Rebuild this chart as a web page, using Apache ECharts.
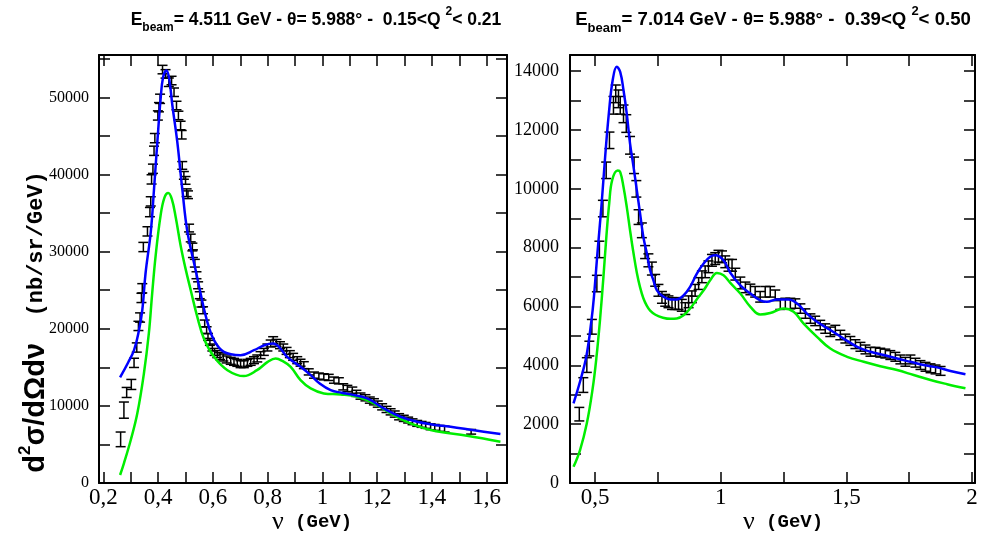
<!DOCTYPE html>
<html>
<head>
<meta charset="utf-8">
<script src="https://cdn.jsdelivr.net/npm/echarts/dist/echarts.min.js"></script>
<style>
html,body{margin:0;padding:0;background:#fff;}
#chart{width:987px;height:551px;}
</style>
</head>
<body>
<div id="chart"></div>
<script>
// ---------------- Left panel (E=4.511 GeV) ----------------
const leftTitle = 'E_beam= 4.511 GeV - θ= 5.988° -  0.15<Q^2< 0.21';
const leftXTicks = [0.2,0.3,0.4,0.5,0.6,0.7,0.8,0.9,1.0,1.1,1.2,1.3,1.4,1.5,1.6];
const leftXLabels = [0.2,0.4,0.6,0.8,1.0,1.2,1.4,1.6];
const leftYLabelStep = 10000;

const leftDataNu = [
0.263,0.275,0.285,0.302,0.312,0.322,0.328,0.334,0.339,0.342,
0.346,0.361,0.370,0.373,0.376,0.381,0.385,0.388,0.399,0.403,
0.407,0.416,0.427,0.439,0.449,0.458,0.467,0.474,0.482,0.486,
0.488,0.494,0.500,0.504,0.509,0.513,0.519,0.525,0.527,0.534,
0.540,0.546,0.552,0.558,0.564,0.570,0.577,0.582,0.589,0.598,
0.606,0.616,0.626,0.638,0.650,0.665,0.677,0.689,0.701,0.713,
0.726,0.738,0.750,0.762,0.774,0.786,0.799,0.811,0.820,0.832,
0.845,0.857,0.869,0.881,0.893,0.908,0.920,0.932,0.950,0.969,
0.987,1.005,1.023,1.042,1.060,1.076,1.091,1.109,1.124,1.139,
1.157,1.173,1.188,1.202,1.218,1.234,1.249,1.264,1.280,1.297,
1.313,1.329,1.346,1.362,1.377,1.395,1.410,1.428,1.446,1.543];
const leftDataVal = [
5660,9450,11740,12780,15580,17570,20370,21460,24000,25250,
30600,32630,35130,36520,39370,40750,43080,44720,47660,48730,
49820,53610,53050,51970,52190,50670,48950,47660,46360,45160,
41180,39890,39240,37640,37380,33060,31770,30600,29740,28500,
26940,25640,24350,23270,22400,20680,19810,18950,18300,17570,
17000,16710,16450,16270,16020,15840,15710,15580,15410,15410,
15580,15710,15930,16150,16580,17000,17570,18090,18520,18170,
17870,17570,17130,16710,16360,15930,15600,15280,14410,13990,
13860,13770,13690,13340,13250,12470,12260,12040,11620,11270,
11050,10750,10530,10230,9880,9540,9230,8940,8590,8380,
8160,7940,7730,7600,7470,7290,7210,7080,6990,6640];
const leftDataErr = [
950,1050,650,650,600,600,600,600,600,600,
600,600,600,600,600,600,600,600,600,600,
600,550,550,550,550,550,550,550,550,550,
500,500,500,500,500,500,500,500,500,500,
450,450,450,450,450,450,450,450,450,450,
450,450,450,450,450,450,450,450,450,450,
450,450,450,450,450,450,450,450,450,450,
450,450,450,450,450,450,450,450,400,400,
400,400,400,400,400,400,400,400,400,400,
400,400,400,400,400,400,400,400,400,400,
380,380,380,380,380,380,380,380,380,300];

const leftBlueNu = [0.261,0.290,0.312,0.330,0.342,0.354,0.373,0.385,0.397,0.409,0.418,0.430,0.440,0.452,0.470,0.488,0.507,0.537,0.555,0.578,0.604,0.640,0.701,0.750,0.790,0.820,0.845,0.871,0.920,0.957,0.990,1.030,1.070,1.103,1.163,1.224,1.285,1.346,1.400,1.468,1.560,1.650];
const leftBlueVal = [13690,15600,17220,19800,22400,27200,32540,38160,44200,49800,52600,53480,52500,48950,44200,38160,32540,27600,24570,21100,18520,17000,16580,17220,17900,18100,17500,16350,15060,13990,12900,12040,11700,11490,10970,9670,8590,7940,7600,7290,6800,6350];
const leftGreenNu = [0.261,0.275,0.300,0.324,0.348,0.366,0.378,0.391,0.409,0.423,0.437,0.450,0.464,0.482,0.500,0.519,0.543,0.567,0.604,0.653,0.713,0.761,0.800,0.829,0.855,0.884,0.920,0.957,1.005,1.066,1.127,1.188,1.249,1.321,1.407,1.528,1.650];
const leftGreenVal = [1040,2550,5570,9030,14200,19390,24500,29530,34700,37000,37600,36800,34500,30800,27800,25000,21540,18740,16360,14630,13860,14630,15700,16150,15800,15060,13340,12260,11620,11490,11180,10320,9030,7730,6770,6130,5350];

// ---------------- Right panel (E=7.014 GeV) ----------------
const rightTitle = 'E_beam= 7.014 GeV - θ= 5.988° -  0.39<Q^2< 0.50';
const rightXTicks = [0.5,0.75,1.0,1.25,1.5,1.75,2.0];
const rightXLabels = [0.5,1.0,1.5,2.0];
const rightYLabelStep = 2000;

const rightDataNu = [
0.437,0.453,0.467,0.477,0.487,0.507,0.517,0.531,0.544,0.557,
0.573,0.582,0.593,0.600,0.613,0.624,0.639,0.655,0.664,0.673,
0.686,0.699,0.712,0.726,0.739,0.752,0.766,0.779,0.792,0.806,
0.819,0.832,0.845,0.859,0.872,0.885,0.898,0.912,0.925,0.938,
0.951,0.965,0.978,0.991,1.005,1.018,1.031,1.045,1.058,1.078,
1.098,1.118,1.137,1.157,1.177,1.197,1.217,1.237,1.257,1.277,
1.297,1.317,1.337,1.357,1.376,1.396,1.416,1.436,1.456,1.476,
1.496,1.516,1.536,1.556,1.576,1.596,1.616,1.635,1.655,1.675,
1.695,1.715,1.735,1.755,1.775,1.795,1.815,1.835,1.855,1.875];
const rightDataVal = [
2340,3330,4010,4570,5310,6780,7940,9330,10630,11650,
12840,13230,13060,12840,12550,12220,11480,10800,10000,9040,
8590,7850,7570,7290,6890,6550,6310,6210,6160,6100,
6100,6100,6040,5930,6160,6330,6550,6780,7010,7180,
7350,7570,7630,7710,7690,7520,7400,7400,7100,6800,
6650,6580,6500,6330,6500,6500,6380,6080,6100,6100,
6100,5930,5760,5590,5510,5370,5250,5140,5200,5030,
4910,4830,4720,4630,4540,4460,4460,4430,4400,4350,
4290,4200,4120,4200,4090,4010,3950,3900,3860,3810];
const rightDataErr = [
230,250,250,250,250,280,280,280,280,280,
300,300,300,300,300,300,300,280,280,250,
250,220,220,220,200,200,200,200,200,200,
200,200,200,200,200,200,200,200,200,200,
200,200,200,200,200,200,200,200,200,200,
180,180,180,180,180,180,180,180,180,180,
160,160,160,160,160,160,160,160,160,160,
150,150,150,150,150,150,150,150,150,150,
150,150,150,150,150,150,150,150,150,150];

const rightBlueNu = [0.414,0.440,0.465,0.485,0.495,0.510,0.525,0.540,0.555,0.570,0.586,0.600,0.613,0.626,0.639,0.653,0.666,0.679,0.692,0.706,0.719,0.732,0.746,0.772,0.799,0.825,0.852,0.878,0.905,0.932,0.958,0.978,1.011,1.038,1.078,1.118,1.157,1.184,1.224,1.270,1.304,1.343,1.383,1.436,1.489,1.543,1.596,1.649,1.702,1.755,1.808,1.861,1.914,1.974];
const rightBlueVal = [2710,3450,4300,5500,6300,7900,9400,11100,12600,13700,14150,13970,13350,12550,11540,10740,9950,9160,8360,7800,7230,6890,6550,6330,6240,6240,6380,6670,7120,7460,7690,7740,7570,7150,6720,6440,6210,6160,6240,6240,6100,5760,5480,5200,4910,4630,4460,4350,4230,4120,4010,3930,3810,3700];
const rightGreenNu = [0.414,0.440,0.467,0.490,0.505,0.520,0.533,0.545,0.556,0.568,0.590,0.600,0.613,0.626,0.639,0.653,0.666,0.679,0.692,0.706,0.719,0.740,0.770,0.800,0.825,0.852,0.878,0.905,0.932,0.958,0.985,1.011,1.038,1.078,1.118,1.157,1.197,1.250,1.290,1.330,1.383,1.436,1.503,1.569,1.635,1.702,1.768,1.835,1.901,1.974];
const rightGreenVal = [550,1120,2030,3200,4250,5600,7000,8400,9500,10300,10620,10570,10060,9380,8590,7800,7150,6650,6280,6020,5860,5720,5620,5580,5590,5700,5930,6250,6550,6890,7140,7060,6800,6440,5990,5730,5780,5930,5820,5420,4970,4570,4290,4120,3970,3840,3670,3500,3360,3220];

// ---------------- helpers ----------------
function zip2(a,b){return a.map((v,i)=>[v,b[i]]);}
function zip3(a,b,c){return a.map((v,i)=>[v,b[i],c[i]]);}
function fmtNu(v){const r=Math.round(v*100)/100;return String(r).replace('.',',');}
function titleRich(t){
  const m = t.match(/^E_beam(.*)Q\^2(.*)$/);
  return '{m|E}{sub|beam}{m|'+m[1]+'Q }{sup|2}{m|'+m[2]+'}';
}
const BLUE='#0000ff', GREEN='#00ee00';
function errRender(params, api){
  const x=api.value(0), y=api.value(1), e=api.value(2);
  const lo=api.coord([x,y-e]), hi=api.coord([x,y+e]);
  const c=5;
  const st={stroke:'#000',lineWidth:1.5,fill:null};
  return {type:'group',children:[
    {type:'line',shape:{x1:lo[0],y1:lo[1],x2:hi[0],y2:hi[1]},style:st},
    {type:'line',shape:{x1:lo[0]-c,y1:lo[1],x2:lo[0]+c,y2:lo[1]},style:st},
    {type:'line',shape:{x1:hi[0]-c,y1:hi[1],x2:hi[0]+c,y2:hi[1]},style:st}
  ]};
}
const axLine={show:true,onZero:false,lineStyle:{color:'#000',width:2}};
function xAx(grid,min,max,ticks,labels,pos){
  return {type:'value',gridIndex:grid,min:min,max:max,position:pos,
    axisLine:axLine,splitLine:{show:false},
    axisTick:{show:true,inside:true,length:11,customValues:ticks,lineStyle:{color:'#000',width:1.5}},
    axisLabel:{show:pos==='bottom',customValues:labels,formatter:fmtNu,color:'#000',
      fontFamily:'Liberation Serif',fontSize:23,margin:3}};
}
function yAx(grid,max,interval,step,pos,fs,margin){
  return {type:'value',gridIndex:grid,min:0,max:max,interval:interval,position:pos,
    axisLine:axLine,splitLine:{show:false},
    axisTick:{show:true,inside:true,length:11,lineStyle:{color:'#000',width:1.5}},
    axisLabel:{show:pos==='left',showMaxLabel:false,formatter:v=>(v%step===0?String(v):''),color:'#000',
      fontFamily:'Liberation Serif',fontSize:fs,margin:margin}};
}
function titleStyle(fs){
  return {
    m:{fontFamily:'Liberation Sans',fontWeight:'bold',fontSize:fs,lineHeight:Math.round(fs*1.6),verticalAlign:'middle',fill:'#000'},
    sub:{fontFamily:'Liberation Sans',fontWeight:'bold',fontSize:Math.round(fs*0.68),verticalAlign:'bottom',fill:'#000'},
    sup:{fontFamily:'Liberation Sans',fontWeight:'bold',fontSize:Math.round(fs*0.68),verticalAlign:'top',fill:'#000'}
  };
}
const nameRich={
  n:{fontFamily:'Liberation Serif',fontSize:26,fill:'#000',verticalAlign:'middle'},
  g:{fontFamily:'Liberation Mono',fontWeight:'bold',fontSize:19,fill:'#000',verticalAlign:'middle'}
};

const chart = echarts.init(document.getElementById('chart'), null, {renderer:'canvas'});
chart.setOption({
  backgroundColor:'#ffffff',
  animation:false,
  grid:[
    {left:99,top:55,width:408,height:428,show:false},
    {left:570,top:55,width:405,height:428,show:false}
  ],
  xAxis:[
    xAx(0,0.184,1.674,leftXTicks,leftXLabels,'bottom'),
    xAx(0,0.184,1.674,leftXTicks,leftXLabels,'top'),
    xAx(1,0.4,2.012,rightXTicks,rightXLabels,'bottom'),
    xAx(1,0.4,2.012,rightXTicks,rightXLabels,'top')
  ],
  yAxis:[
    yAx(0,55500,5000,leftYLabelStep,'left',16,10),
    yAx(0,55500,5000,leftYLabelStep,'right',16,10),
    yAx(1,14550,1000,rightYLabelStep,'left',18,11),
    yAx(1,14550,1000,rightYLabelStep,'right',18,11)
  ],
  graphic:[
    {type:'text',x:316,y:20,style:{text:titleRich(leftTitle),rich:titleStyle(17.5),align:'center',verticalAlign:'middle'}},
    {type:'text',x:773,y:20,style:{text:titleRich(rightTitle),rich:titleStyle(18.6),align:'center',verticalAlign:'middle'}},
    {type:'text',x:312,y:522,style:{text:'{n|ν}{g| (GeV)}',rich:nameRich,align:'center',verticalAlign:'middle'}},
    {type:'text',x:783,y:522,style:{text:'{n|ν}{g| (GeV)}',rich:nameRich,align:'center',verticalAlign:'middle'}},
    {type:'text',x:36,y:322,rotation:Math.PI/2,style:{
      text:'{a|d}{s|2}{a|σ/dΩdν}{g|  (nb/sr/GeV)}',
      rich:{
        a:{fontFamily:'Liberation Sans',fontWeight:'bold',fontSize:29,lineHeight:38,verticalAlign:'middle',fill:'#000'},
        s:{fontFamily:'Liberation Sans',fontWeight:'bold',fontSize:17,verticalAlign:'top',fill:'#000'},
        g:{fontFamily:'Liberation Mono',fontWeight:'bold',fontSize:22,verticalAlign:'middle',fill:'#000'}
      },align:'center',verticalAlign:'middle'}}
  ],
  series:[
    {type:'custom',xAxisIndex:0,yAxisIndex:0,renderItem:errRender,encode:{x:0,y:1},data:zip3(leftDataNu,leftDataVal,leftDataErr),clip:true,z:2},
    {type:'line',xAxisIndex:0,yAxisIndex:0,data:zip2(leftGreenNu,leftGreenVal),smooth:0.4,showSymbol:false,lineStyle:{color:GREEN,width:2.5},z:3},
    {type:'line',xAxisIndex:0,yAxisIndex:0,data:zip2(leftBlueNu,leftBlueVal),smooth:0.4,showSymbol:false,lineStyle:{color:BLUE,width:2.5},z:4},
    {type:'custom',xAxisIndex:2,yAxisIndex:2,renderItem:errRender,encode:{x:0,y:1},data:zip3(rightDataNu,rightDataVal,rightDataErr),clip:true,z:2},
    {type:'line',xAxisIndex:2,yAxisIndex:2,data:zip2(rightGreenNu,rightGreenVal),smooth:0.4,showSymbol:false,lineStyle:{color:GREEN,width:2.5},z:3},
    {type:'line',xAxisIndex:2,yAxisIndex:2,data:zip2(rightBlueNu,rightBlueVal),smooth:0.4,showSymbol:false,lineStyle:{color:BLUE,width:2.5},z:4}
  ]
});
</script>
</body>
</html>
